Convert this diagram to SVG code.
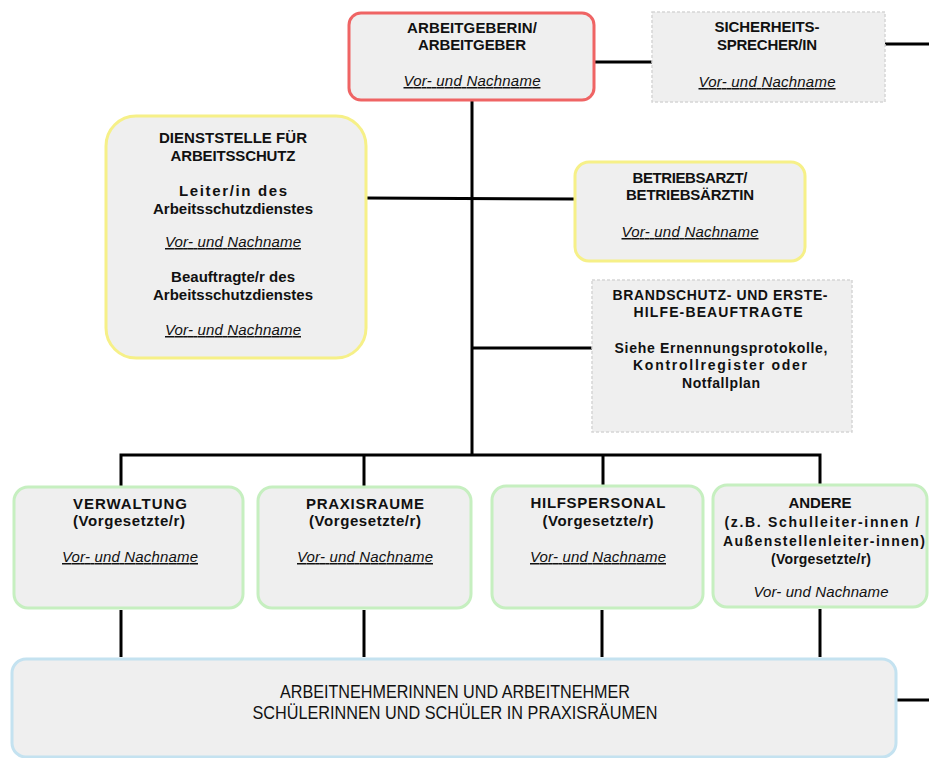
<svg xmlns="http://www.w3.org/2000/svg" width="929" height="758" viewBox="0 0 929 758">
<style>
.box{fill:#efefef;stroke-width:3}
.red{stroke:#ef6464}
.yel{stroke:#f6f088}
.grn{stroke:#c6efc0}
.blu{stroke:#c4e2f0}
.dash{stroke:#d6d6d6;stroke-width:1.5;stroke-dasharray:3 2}
text{font-family:"Liberation Sans",Arial,sans-serif;fill:#111;text-anchor:middle}
.b{font-weight:bold;font-size:15px}
.s{font-weight:bold;font-size:14px}
.n{font-style:italic;font-size:15px;text-decoration:underline}
.ni{font-style:italic;font-size:15px}
.w{font-size:18px}
.con{stroke:#000;stroke-width:3;fill:none}
</style>
<g id="connectors">
<line class="con" x1="595" y1="62" x2="652" y2="62"/>
<line class="con" x1="885" y1="44" x2="929" y2="44"/>
<line class="con" x1="472" y1="100" x2="472" y2="455"/>
<line class="con" x1="366" y1="198" x2="575" y2="199"/>
<line class="con" x1="472" y1="348" x2="592" y2="348"/>
<polyline class="con" points="121,487 121,455 820,455 820,485"/>
<line class="con" x1="364" y1="455" x2="364" y2="487"/>
<line class="con" x1="603" y1="455" x2="603" y2="485"/>
<line class="con" x1="121" y1="610" x2="121" y2="657"/>
<line class="con" x1="364" y1="610" x2="364" y2="657"/>
<line class="con" x1="602" y1="610" x2="602" y2="657"/>
<line class="con" x1="820" y1="609" x2="820" y2="657"/>
<line class="con" x1="897" y1="700" x2="929" y2="700"/>
</g>
<g id="arbeitgeber">
<rect class="box red" x="349" y="13" width="245" height="87" rx="12"/>
<text class="b" x="472" y="33" textLength="130">ARBEITGEBERIN/</text>
<text class="b" x="472" y="50" textLength="108">ARBEITGEBER</text>
<text class="n" x="472" y="86" textLength="137">Vor- und Nachname</text>
</g>
<g id="sicherheitssprecher">
<rect class="box dash" x="652" y="12" width="233" height="90"/>
<text class="b" x="767" y="32" textLength="105">SICHERHEITS-</text>
<text class="b" x="767" y="50" textLength="100">SPRECHER/IN</text>
<text class="n" x="767" y="87" textLength="137">Vor- und Nachname</text>
</g>
<g id="dienststelle">
<rect class="box yel" x="106" y="116" width="260" height="242" rx="30"/>
<text class="b" x="233" y="143" textLength="148">DIENSTSTELLE FÜR</text>
<text class="b" x="233" y="161" textLength="125">ARBEITSSCHUTZ</text>
<text class="b" x="233" y="196" textLength="108">Leiter/in des</text>
<text class="b" x="233" y="214" textLength="160">Arbeitsschutzdienstes</text>
<text class="n" x="233" y="247" textLength="136">Vor- und Nachname</text>
<text class="b" x="233" y="282" textLength="124">Beauftragte/r des</text>
<text class="b" x="233" y="300" textLength="160">Arbeitsschutzdienstes</text>
<text class="n" x="233" y="335" textLength="136">Vor- und Nachname</text>
</g>
<g id="betriebsarzt">
<rect class="box yel" x="575" y="162" width="230" height="99" rx="14"/>
<text class="b" x="690" y="183" textLength="115">BETRIEBSARZT/</text>
<text class="b" x="690" y="200" textLength="128">BETRIEBSÄRZTIN</text>
<text class="n" x="690" y="237" textLength="137">Vor- und Nachname</text>
</g>
<g id="brandschutz">
<rect class="box dash" x="592" y="280" width="260" height="152"/>
<text class="s" x="720" y="300" textLength="215">BRANDSCHUTZ- UND ERSTE-</text>
<text class="s" x="718" y="317" textLength="169">HILFE-BEAUFTRAGTE</text>
<text class="s" x="721" y="353" textLength="213">Siehe Ernennungsprotokolle,</text>
<text class="s" x="720" y="370" textLength="174">Kontrollregister oder</text>
<text class="s" x="721" y="388" textLength="78">Notfallplan</text>
</g>
<g id="verwaltung">
<rect class="box grn" x="14" y="487" width="229" height="121" rx="14"/>
<text class="b" x="130" y="509" textLength="114">VERWALTUNG</text>
<text class="b" x="129" y="526" textLength="112">(Vorgesetzte/r)</text>
<text class="n" x="130" y="562" textLength="136">Vor- und Nachname</text>
</g>
<g id="praxisraume">
<rect class="box grn" x="258" y="487" width="213" height="121" rx="14"/>
<text class="b" x="365" y="509" textLength="118">PRAXISRAUME</text>
<text class="b" x="365" y="526" textLength="112">(Vorgesetzte/r)</text>
<text class="n" x="365" y="562" textLength="136">Vor- und Nachname</text>
</g>
<g id="hilfspersonal">
<rect class="box grn" x="492" y="486" width="211" height="122" rx="14"/>
<text class="b" x="598" y="508" textLength="135">HILFSPERSONAL</text>
<text class="b" x="598" y="526" textLength="111">(Vorgesetzte/r)</text>
<text class="n" x="598" y="562" textLength="136">Vor- und Nachname</text>
</g>
<g id="andere">
<rect class="box grn" x="713" y="485" width="214" height="122" rx="14"/>
<text class="b" x="820" y="508" textLength="63">ANDERE</text>
<text class="s" x="822" y="527" textLength="195">(z.B. Schulleiter-innen /</text>
<text class="s" x="824" y="546" textLength="202">Außenstellenleiter-innen)</text>
<text class="s" x="821" y="564" textLength="100">(Vorgesetzte/r)</text>
<text class="ni" x="821" y="597" textLength="135">Vor- und Nachname</text>
</g>
<g id="arbeitnehmer">
<rect class="box blu" x="12" y="659" width="884" height="98" rx="14"/>
<text class="w" x="455" y="698" textLength="350" lengthAdjust="spacingAndGlyphs">ARBEITNEHMERINNEN UND ARBEITNEHMER</text>
<text class="w" x="455" y="719" textLength="405" lengthAdjust="spacingAndGlyphs">SCHÜLERINNEN UND SCHÜLER IN PRAXISRÄUMEN</text>
</g>
</svg>
